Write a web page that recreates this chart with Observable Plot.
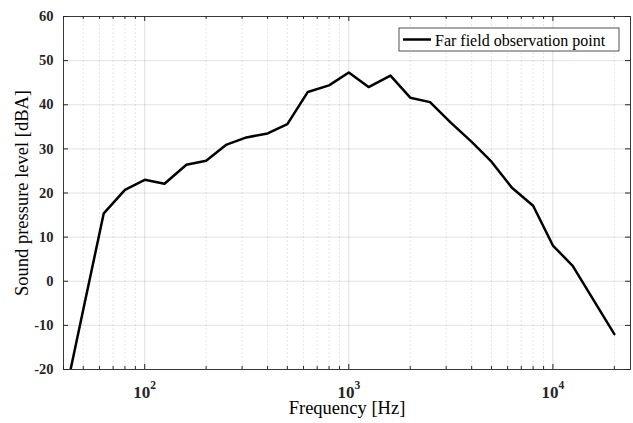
<!DOCTYPE html>
<html><head><meta charset="utf-8">
<script src="https://cdn.jsdelivr.net/npm/d3@7"></script>
<script src="https://cdn.jsdelivr.net/npm/@observablehq/plot@0.6"></script>
<style>
body{margin:0;background:#fff;}
#chart{width:633px;height:423px;}
</style></head><body><div id="chart"></div>
<script>
// Data (1/3-octave band centre frequencies, Hz) and levels (dBA)
const frequencies = [40, 50, 63, 80, 100, 125, 160, 200, 250, 315, 400, 500, 630, 800, 1000, 1250, 1600, 2000, 2500, 3150, 4000, 5000, 6300, 8000, 10000, 12500, 20000];
const levels = [-27.6, -6.4, 15.4, 20.7, 23.0, 22.1, 26.4, 27.3, 30.9, 32.6, 33.5, 35.6, 42.9, 44.4, 47.3, 44.0, 46.6, 41.6, 40.6, 36.0, 31.6, 27.1, 21.2, 17.1, 8.1, 3.5, -12.0];
const seriesName = "Far field observation point";
const xMajorTicks = [100, 1000, 10000];
const xMinorTicks = [40, 50, 60, 70, 80, 90, 200, 300, 400, 500, 600, 700, 800, 900, 2000, 3000, 4000, 5000, 6000, 7000, 8000, 9000, 20000];
const yTicks = [-20, -10, 0, 10, 20, 30, 40, 50, 60];
const xDomain = [40, 24000];
const yDomain = [-20, 60];
const xLabel = "Frequency [Hz]";
const yLabel = "Sound pressure level [dBA]";

const data = frequencies.map((f, i) => ({f, v: levels[i]}));

const W = 633, H = 423, mL = 63, mR = 3, mT = 16, mB = 54;
const plotW = W - mL - mR, plotH = H - mT - mB;
const font = "'Liberation Serif', 'Times New Roman', Times, serif";
const axisColor = "#262626";

const chart = Plot.plot({
  width: W, height: H,
  marginLeft: mL, marginRight: mR, marginTop: mT, marginBottom: mB,
  style: {fontFamily: font, background: "#fff", color: axisColor, overflow: "visible"},
  x: {type: "log", domain: xDomain},
  y: {domain: yDomain},
  marks: [
    Plot.ruleX(xMinorTicks, {stroke: axisColor, strokeOpacity: 0.11, strokeDasharray: "2,2"}),
    Plot.ruleX(xMajorTicks, {stroke: axisColor, strokeOpacity: 0.15}),
    Plot.ruleY(yTicks, {stroke: axisColor, strokeOpacity: 0.13}),
    // inward tick marks
    Plot.tickX(xMajorTicks, {stroke: axisColor, insetTop: plotH - 5}),
    Plot.tickX(xMajorTicks, {stroke: axisColor, insetBottom: plotH - 5}),
    Plot.tickX(xMinorTicks, {stroke: axisColor, insetTop: plotH - 3}),
    Plot.tickX(xMinorTicks, {stroke: axisColor, insetBottom: plotH - 3}),
    Plot.tickY(yTicks, {stroke: axisColor, insetRight: plotW - 5}),
    Plot.tickY(yTicks, {stroke: axisColor, insetLeft: plotW - 5}),
    Plot.axisX({ticks: xMajorTicks, tickSize: 0, tickPadding: 16.5, tickFormat: d => "10^" + Math.round(Math.log10(d)),
      fontSize: 17, fontWeight: "bold", label: null, fill: axisColor}),
    Plot.axisY({ticks: yTicks, tickSize: 0, tickPadding: 10, tickFormat: d => String(d),
      fontSize: 14.5, fontWeight: "bold", label: null, fill: axisColor}),
    Plot.text([xLabel], {frameAnchor: "bottom", dy: 44, fontSize: 18.5, fill: "black", textAnchor: "middle"}),
    Plot.text([yLabel], {frameAnchor: "left", dx: -41, rotate: -90, fontSize: 18.5, fill: "black", textAnchor: "middle"}),
    Plot.line(data, {x: "f", y: "v", stroke: "black", strokeWidth: 2.5, clip: true}),
    Plot.frame({stroke: axisColor, strokeWidth: 0.9})
  ]
});
document.getElementById("chart").appendChild(chart);

// superscript exponents on the x tick labels
d3.select(chart).selectAll('[aria-label="x-axis tick label"] text').each(function() {
  const t = this.textContent;
  const parts = t.split("^");
  if (parts.length === 2) {
    const sel = d3.select(this);
    sel.text(parts[0]);
    sel.append("tspan").attr("dy", "-9px").attr("font-size", "11.5px").text(parts[1]);
  }
});

// legend box (top-right inside the axes)
const svg = d3.select(chart);
const lg = svg.append("g").attr("aria-label", "legend");
const lx = W - mR - 11 - 220, ly = mT + 12;
lg.append("rect").attr("x", lx).attr("y", ly).attr("width", 220).attr("height", 23)
  .attr("fill", "white").attr("stroke", axisColor).attr("stroke-width", 0.8);
lg.append("line").attr("x1", lx + 4).attr("x2", lx + 32).attr("y1", ly + 11.5).attr("y2", ly + 11.5)
  .attr("stroke", "black").attr("stroke-width", 2.5);
lg.append("text").attr("x", lx + 36).attr("y", ly + 17.5).attr("font-size", 16).attr("fill", "black")
  .attr("text-anchor", "start").attr("font-family", font).text(seriesName);
</script></body></html>
